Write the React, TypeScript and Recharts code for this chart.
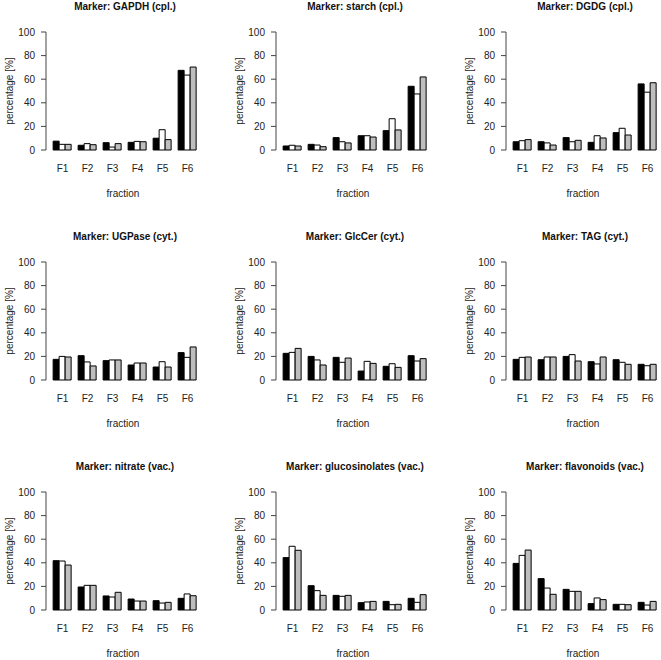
import React from 'react';
import { BarChart, Bar, XAxis, YAxis, Label } from 'recharts';

const fractions = ['F1', 'F2', 'F3', 'F4', 'F5', 'F6'];
const yTicks = [0, 20, 40, 60, 80, 100];

const titles = [
  'Marker: GAPDH (cpl.)',
  'Marker: starch (cpl.)',
  'Marker: DGDG (cpl.)',
  'Marker: UGPase (cyt.)',
  'Marker: GlcCer (cyt.)',
  'Marker: TAG (cyt.)',
  'Marker: nitrate (vac.)',
  'Marker: glucosinolates (vac.)',
  'Marker: flavonoids (vac.)',
];

// each marker: [black, white, gray] bars per fraction
const gapdh = [
  [7.5, 4, 6.2, 6.5, 10, 67.5],
  [4.8, 5.4, 2.5, 7.3, 17.2, 63.5],
  [4.8, 4.5, 5.4, 7, 8.8, 70.3],
];
const starch = [
  [3.4, 4.8, 10.5, 12.1, 16.4, 54],
  [4, 4.2, 7, 12.1, 26.5, 47.5],
  [3.4, 2.8, 6, 11, 17, 61.9],
];
const dgdg = [
  [7, 7, 10.5, 6.5, 14.7, 56],
  [7.9, 6, 7, 12.1, 18.4, 49],
  [8.8, 4.2, 8.2, 10.2, 12.7, 57],
];
const ugpase = [
  [17.5, 20.6, 16.4, 12.7, 11, 23.2],
  [20, 15.3, 17, 14.4, 15.5, 19.2],
  [19.5, 11.9, 17, 14.4, 11, 28],
];
const glccer = [
  [22.6, 20, 19.2, 7.6, 11.6, 20.6],
  [23.4, 17, 15, 15.8, 13.8, 16.1],
  [26.8, 12.7, 18.6, 14.1, 10.7, 18.1],
];
const tag = [
  [17.5, 17.2, 20, 15.5, 17.2, 13.3],
  [19.2, 19.5, 21.5, 13.6, 15, 12.1],
  [19.5, 19.5, 16.1, 19.5, 13.3, 13.3],
];
const nitrate = [
  [41.8, 19.5, 11.9, 9.3, 7.9, 9.9],
  [41.5, 20.9, 11, 7.6, 5.9, 13.6],
  [38.1, 20.9, 15, 7.6, 6.5, 12.1],
];
const glucosinolates = [
  [44.4, 20.6, 12.4, 6.2, 7.3, 9.9],
  [54, 16.4, 11.6, 6.8, 4.5, 6.5],
  [50.6, 12.4, 12.4, 7.3, 4.8, 13],
];
const flavonoids = [
  [39.5, 26.6, 17.5, 5.4, 4.8, 6.5],
  [46.3, 18.6, 15.8, 10.2, 4.8, 4.2],
  [50.8, 13.3, 15.8, 8.8, 4.5, 7.3],
];

const markerValues = [gapdh, starch, dgdg, ugpase, glccer, tag, nitrate, glucosinolates, flavonoids];

const FONT = '"Liberation Sans", Arial, sans-serif';
const PANEL = 230;

const YLabel = (props: any) => {
  const { viewBox } = props;
  const x = viewBox.x + 9;
  const y = viewBox.y + viewBox.height / 2;
  return (
    <text
      x={x}
      y={y}
      transform={`rotate(-90 ${x} ${y})`}
      textAnchor="middle"
      dominantBaseline="central"
      fontSize={10}
      fontFamily={FONT}
      fill="#222"
    >
      percentage [%]
    </text>
  );
};

const Panel: React.FC<{ title: string; values: number[][] }> = ({ title, values }) => {
  const data = fractions.map((f, i) => ({
    fraction: f,
    a: values[0][i],
    b: values[1][i],
    c: values[2][i],
  }));

  return (
    <div style={{ position: 'relative', width: PANEL, height: PANEL }}>
      <div
        style={{
          position: 'absolute',
          left: 25,
          top: 0,
          width: 200,
          lineHeight: '14px',
          textAlign: 'center',
          fontFamily: FONT,
          fontSize: 10,
          fontWeight: 'bold',
          color: '#111',
        }}
      >
        {title}
      </div>
      <BarChart
        width={PANEL}
        height={PANEL}
        data={data}
        margin={{ top: 32, right: 30, bottom: 30, left: 0 }}
        barGap={0}
        barCategoryGap="12.5%"
      >
        <XAxis
          dataKey="fraction"
          axisLine={false}
          tickLine={false}
          tickSize={0}
          tickMargin={15}
          height={50}
          padding={{ left: 4, right: 0 }}
          tick={{ fontSize: 10, fontFamily: FONT, fill: '#222' }}
        >
          <Label
            value="fraction"
            position="insideBottom"
            offset={3}
            style={{ fontSize: 10, fontFamily: FONT, fill: '#222' }}
          />
        </XAxis>
        <YAxis
          domain={[0, 100]}
          ticks={yTicks}
          width={46}
          tickSize={5}
          tickMargin={6}
          axisLine={{ stroke: '#444' }}
          tickLine={{ stroke: '#444' }}
          tick={{ fontSize: 10, fontFamily: FONT, fill: '#222' }}
          label={<YLabel />}
        />
        <Bar dataKey="a" fill="#000" stroke="#000" strokeWidth={1} isAnimationActive={false} />
        <Bar dataKey="b" fill="#fff" stroke="#000" strokeWidth={1} isAnimationActive={false} />
        <Bar dataKey="c" fill="#bebebe" stroke="#000" strokeWidth={1} isAnimationActive={false} />
      </BarChart>
    </div>
  );
};

export default function App() {
  return (
    <div
      style={{
        position: 'absolute',
        left: 0,
        top: 0,
        width: 661,
        height: 660,
        background: '#fff',
        overflow: 'hidden',
      }}
    >
      {titles.map((t, i) => (
        <div
          key={t}
          style={{
            position: 'absolute',
            left: (i % 3) * PANEL,
            top: Math.floor(i / 3) * PANEL,
          }}
        >
          <Panel title={t} values={markerValues[i]} />
        </div>
      ))}
    </div>
  );
}
